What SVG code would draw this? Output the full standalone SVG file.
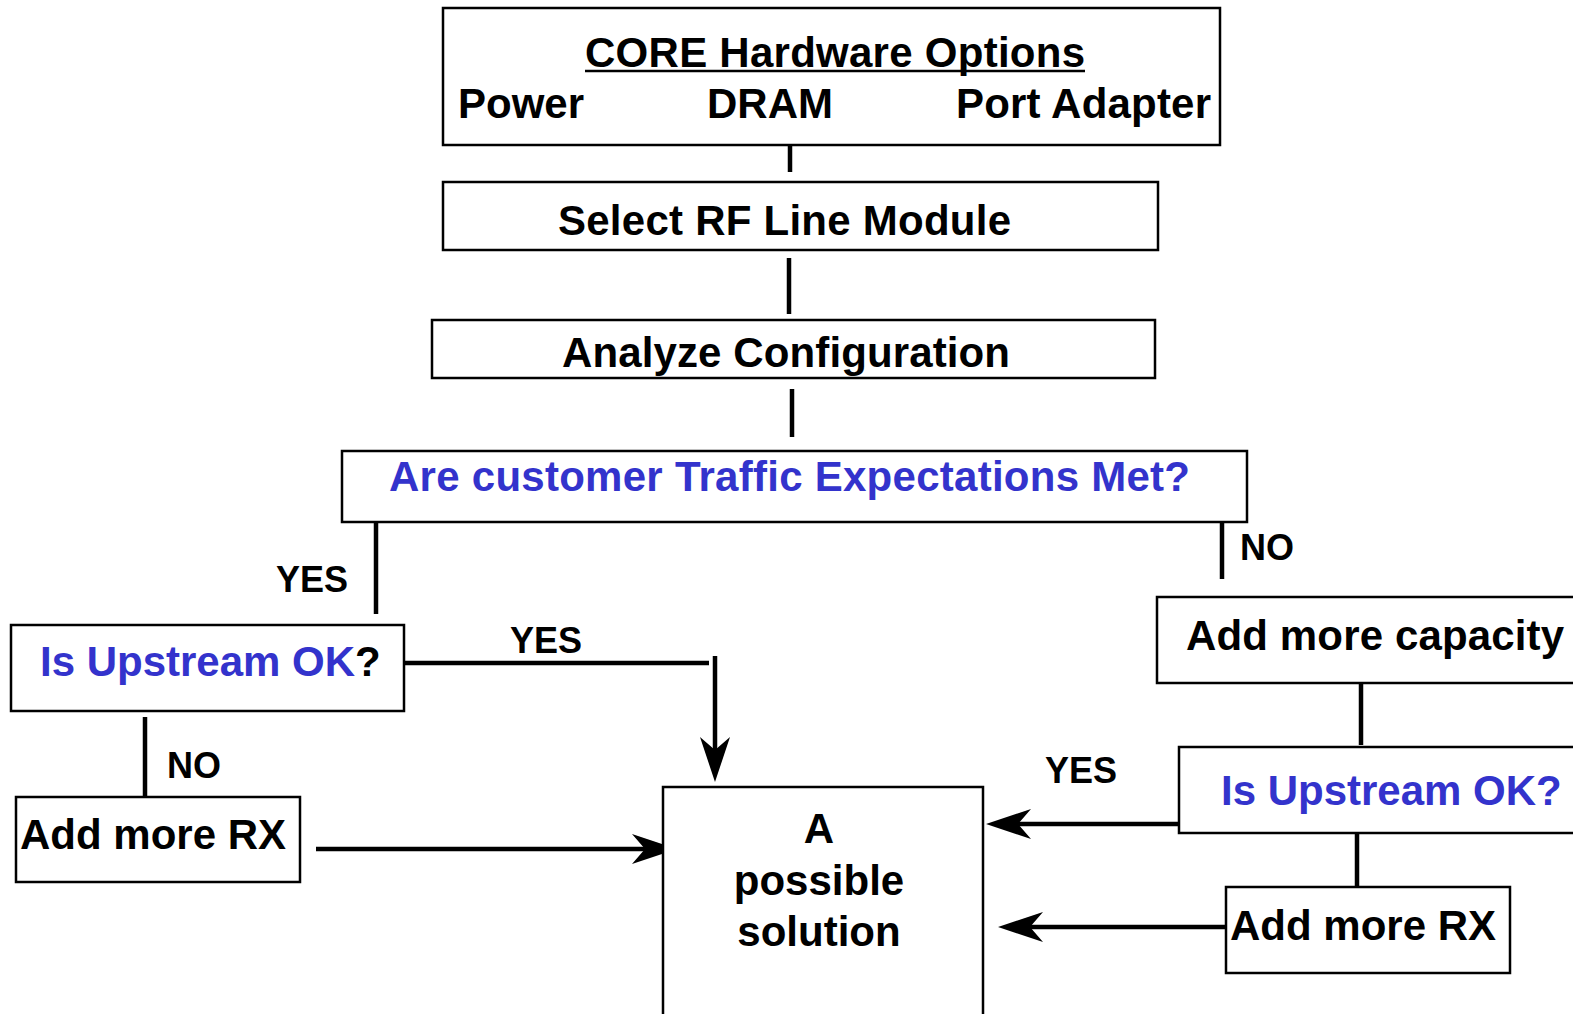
<svg xmlns="http://www.w3.org/2000/svg" width="1573" height="1014" viewBox="0 0 1573 1014">
  <style>
    .box { fill: #ffffff; stroke: #000000; stroke-width: 2.5; }
    .t { font-family: "Liberation Sans", Arial, sans-serif; font-weight: bold; font-size: 42px; fill: #000000; }
    .lbl { font-family: "Liberation Sans", Arial, sans-serif; font-weight: bold; font-size: 36px; fill: #000000; }
    .blue { fill: #3333cc; }
    .wire { stroke: #000000; stroke-width: 4.5; fill: none; }
    .head { fill: #000000; stroke: none; }
  </style>
  <defs>
    <!-- notched arrowhead, tip at origin, pointing along +x -->
    <path id="ah" d="M0,0 L-45,-15 L-32,0 L-45,15 Z"/>
  </defs>
  <rect width="1573" height="1014" fill="#ffffff"/>

  <g id="connectors">
    <line class="wire" x1="790" y1="138" x2="790" y2="172"/>
    <line class="wire" x1="789" y1="258" x2="789" y2="314"/>
    <line class="wire" x1="792" y1="389" x2="792" y2="437"/>
    <line class="wire" x1="376" y1="522" x2="376" y2="614"/>
    <text class="lbl" x="276" y="592">YES</text>
    <line class="wire" x1="1222" y1="522" x2="1222" y2="579"/>
    <text class="lbl" x="1240" y="560">NO</text>
    <!-- upstream OK (left) → solution -->
    <line class="wire" x1="404" y1="663" x2="709" y2="663"/>
    <text class="lbl" x="510" y="653">YES</text>
    <line class="wire" x1="715" y1="656" x2="715" y2="750"/>
    <use href="#ah" class="head" transform="translate(715,782) rotate(90)"/>
    <!-- upstream not OK (left) → add RX -->
    <line class="wire" x1="145" y1="717" x2="145" y2="798"/>
    <text class="lbl" x="167" y="778">NO</text>
    <line class="wire" x1="316" y1="849" x2="646" y2="849"/>
    <use href="#ah" class="head" transform="translate(677,849)"/>
    <!-- right branch -->
    <line class="wire" x1="1361" y1="684" x2="1361" y2="745"/>
    <text class="lbl" x="1045" y="783">YES</text>
    <line class="wire" x1="1181" y1="824" x2="1018" y2="824"/>
    <use href="#ah" class="head" transform="translate(986,824) rotate(180)"/>
    <line class="wire" x1="1357" y1="833" x2="1357" y2="887"/>
    <line class="wire" x1="1227" y1="927" x2="1030" y2="927"/>
    <use href="#ah" class="head" transform="translate(998,927) rotate(180)"/>
  </g>

  <g id="core-hardware">
    <rect class="box" x="443" y="8" width="777" height="137"/>
    <text class="t" x="585" y="67" textLength="500">CORE Hardware Options</text>
    <line x1="585" y1="71" x2="1085" y2="71" stroke="#000" stroke-width="2.5"/>
    <text class="t" x="458" y="118">Power</text>
    <text class="t" x="707" y="118">DRAM</text>
    <text class="t" x="956" y="118" textLength="255">Port Adapter</text>
  </g>

  <g id="select-rf">
    <rect class="box" x="443" y="182" width="715" height="68"/>
    <text class="t" x="558" y="235" textLength="453">Select RF Line Module</text>
  </g>

  <g id="analyze">
    <rect class="box" x="432" y="320" width="723" height="58"/>
    <text class="t" x="562" y="367" textLength="448">Analyze Configuration</text>
  </g>

  <g id="traffic-met">
    <rect class="box" x="342" y="451" width="905" height="71"/>
    <text class="t blue" x="389" y="491" textLength="801">Are customer Traffic Expectations Met?</text>
  </g>

  <g id="upstream-left">
    <rect class="box" x="11" y="625" width="393" height="86"/>
    <text class="t" x="40" y="676"><tspan class="blue">Is Upstream OK</tspan>?</text>
  </g>

  <g id="add-rx-left">
    <rect class="box" x="16" y="797" width="284" height="85"/>
    <text class="t" x="20" y="849">Add more RX</text>
  </g>

  <g id="solution">
    <rect class="box" x="663" y="787" width="320" height="240"/>
    <text class="t" x="819" y="843" text-anchor="middle">A</text>
    <text class="t" x="819" y="895" text-anchor="middle">possible</text>
    <text class="t" x="819" y="946" text-anchor="middle">solution</text>
  </g>

  <g id="add-capacity">
    <rect class="box" x="1157" y="597" width="440" height="86"/>
    <text class="t" x="1186" y="650" textLength="378">Add more capacity</text>
  </g>

  <g id="upstream-right">
    <rect class="box" x="1179" y="747" width="420" height="86"/>
    <text class="t blue" x="1221" y="805">Is Upstream OK?</text>
  </g>

  <g id="add-rx-right">
    <rect class="box" x="1226" y="887" width="284" height="86"/>
    <text class="t" x="1230" y="940">Add more RX</text>
  </g>
</svg>
